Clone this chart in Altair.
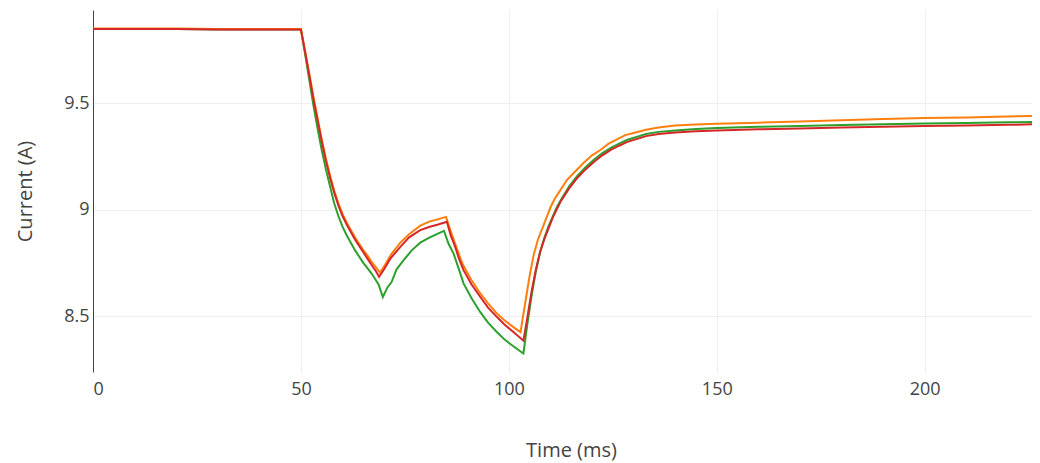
import altair as alt
import pandas as pd

# Series names and colours
series_names = ["Trace 1", "Trace 2", "Trace 3"]
series_colors = ["#2ca02c", "#ff7f0e", "#d62728"]

# Trace 1 (green)
t_green = [0, 10, 20, 30, 40, 50, 51, 52, 53, 54, 55, 56, 57, 58, 59, 60, 61, 62, 63, 64, 65, 66, 67, 68, 68.7, 69.7,
           70.8, 71.8, 73, 74.7, 76.7, 78.7, 81, 84.4, 85.5, 86.7, 88, 89.1, 91, 93.1, 95, 97.1, 99, 101, 103.5,
           104.5, 105.5, 106.5, 107.5, 108.5, 109.5, 110.5, 111.5, 112.5, 114.5, 116.5, 118.5, 120.5, 122.5, 124.5,
           126.5, 128.5, 130.5, 133, 136, 140, 145, 150, 160, 170, 180, 190, 200, 210, 220, 230]
v_green = [9.848, 9.848, 9.848, 9.846, 9.846, 9.846, 9.73, 9.61, 9.49, 9.38, 9.28, 9.19, 9.11, 9.03, 8.97, 8.92, 8.88,
           8.845, 8.81, 8.78, 8.75, 8.725, 8.70, 8.67, 8.648, 8.59,
           8.635, 8.66, 8.72, 8.763, 8.81, 8.845, 8.87, 8.90, 8.84, 8.794, 8.72, 8.654, 8.585, 8.52, 8.47, 8.426, 8.39,
           8.36, 8.325,
           8.47, 8.60, 8.71, 8.80, 8.865, 8.92, 8.965, 9.01, 9.045, 9.11, 9.16, 9.20, 9.235, 9.265, 9.29,
           9.31, 9.328, 9.34, 9.355, 9.365, 9.372, 9.378, 9.383, 9.389, 9.393, 9.397, 9.401, 9.404, 9.407, 9.41, 9.413]

# Trace 2 (orange)
t_orange = [0, 10, 20, 30, 40, 50, 51, 52, 53, 54, 55, 56, 57, 58, 59, 60, 61, 62, 63, 64, 65, 66, 67, 68, 69,
            70.2, 71.7, 73.9, 76, 78.7, 81, 83, 84.9, 86, 87, 88, 89, 91, 93, 95, 97, 99, 101, 102.8,
            104, 105, 106, 107, 108, 109, 110, 111, 112, 114, 116, 118, 120, 122, 124, 126, 128, 130, 133, 136,
            140, 145, 150, 160, 170, 180, 190, 200, 210, 220, 230]
v_orange = [9.85, 9.85, 9.85, 9.848, 9.848, 9.848, 9.745, 9.64, 9.53, 9.43, 9.33, 9.24, 9.16, 9.09, 9.03, 8.98, 8.94,
            8.905, 8.87, 8.84, 8.81, 8.785, 8.755, 8.73, 8.705,
            8.74, 8.79, 8.845, 8.885, 8.925, 8.945, 8.955, 8.966, 8.90, 8.845, 8.79, 8.74, 8.67, 8.61, 8.56, 8.515,
            8.48, 8.45, 8.425,
            8.57, 8.69, 8.79, 8.86, 8.91, 8.96, 9.01, 9.05, 9.08, 9.14, 9.18, 9.22, 9.255, 9.28, 9.31, 9.33, 9.35,
            9.36, 9.375, 9.385, 9.395, 9.40, 9.403, 9.408, 9.414, 9.42, 9.425, 9.43, 9.433, 9.437, 9.441]

# Trace 3 (red)
t_red = [0, 10, 20, 30, 40, 50, 51, 52, 53, 54, 55, 56, 57, 58, 59, 60, 61, 62, 63, 64, 65, 66, 67, 68, 68.8,
         70, 71.5, 73.9, 76, 78.7, 81, 83, 85.1, 86, 87.1, 88, 89.1, 91, 93.1, 95, 97.1, 99, 101.1, 103.5,
         104.5, 105.5, 106.5, 107.5, 108.5, 109.5, 110.5, 111.5, 112.5, 114.5, 116.5, 118.5, 120.5, 122.5, 124.5,
         126.5, 128.5, 130.5, 133, 136, 140, 145, 150, 160, 170, 180, 190, 200, 210, 220, 230]
v_red = [9.848, 9.848, 9.848, 9.846, 9.846, 9.846, 9.74, 9.63, 9.52, 9.42, 9.32, 9.23, 9.15, 9.08, 9.02, 8.97, 8.93,
         8.895, 8.86, 8.83, 8.80, 8.77, 8.74, 8.712, 8.685,
         8.72, 8.77, 8.825, 8.87, 8.904, 8.92, 8.93, 8.943, 8.88, 8.825, 8.77, 8.716, 8.65, 8.591, 8.54, 8.497,
         8.46, 8.426, 8.385,
         8.50, 8.62, 8.72, 8.80, 8.86, 8.91, 8.96, 9.00, 9.04, 9.10, 9.15, 9.19, 9.225, 9.255, 9.28,
         9.30, 9.318, 9.33, 9.345, 9.355, 9.362, 9.368, 9.372, 9.377, 9.381, 9.385, 9.389, 9.392, 9.395, 9.398, 9.402]

# Axis ticks
x_ticks = [0, 50, 100, 150, 200]
y_ticks = [8.5, 9, 9.5]

frames = []
for k, (tt, vv) in enumerate([(t_green, v_green), (t_orange, v_orange), (t_red, v_red)]):
    frames.append(pd.DataFrame({"time": tt, "current": vv, "series": series_names[k], "order": k}))
df = pd.concat(frames, ignore_index=True)

font = "Open Sans"
text_color = "#444444"

chart = alt.Chart(df).mark_line(strokeWidth=2, clip=True).encode(
    x=alt.X("time:Q",
            scale=alt.Scale(domain=[0, 225.8], nice=False, zero=False),
            axis=alt.Axis(values=x_ticks, title="Time (ms)", grid=True, domain=False, ticks=False,
                          labelPadding=8, labelFontSize=18, labelColor=text_color, labelFont=font,
                          titleFontSize=20, titleFontWeight="normal", titleColor=text_color, titleFont=font,
                          titleX=478, titleY=84, titleBaseline="alphabetic", titleAnchor="start",
                          titleAlign="center")),
    y=alt.Y("current:Q",
            scale=alt.Scale(domain=[8.238, 9.937], nice=False, zero=False),
            axis=alt.Axis(values=y_ticks, format="~g", title="Current (A)", grid=True, domain=True,
                          domainColor=text_color, domainWidth=1, ticks=False, labelPadding=4,
                          labelFontSize=18, labelColor=text_color, labelFont=font,
                          titleFontSize=20, titleFontWeight="normal", titleColor=text_color, titleFont=font,
                          titleX=-68, titleY=181, titleAngle=-90, titleAlign="center",
                          titleBaseline="middle")),
    color=alt.Color("series:N", scale=alt.Scale(domain=series_names, range=series_colors), legend=None),
    detail="series:N",
    order=alt.Order("time:Q"),
).properties(
    width=939,
    height=362,
    autosize=alt.AutoSizeParams(type="none"),
    padding={"left": 85, "top": 2, "right": 0, "bottom": 92},
).configure_axis(
    gridColor="#eeeeee",
    gridWidth=1,
).configure_view(
    stroke=None,
)

chart.save("out.html", embed_options={"renderer": "svg", "actions": False})
